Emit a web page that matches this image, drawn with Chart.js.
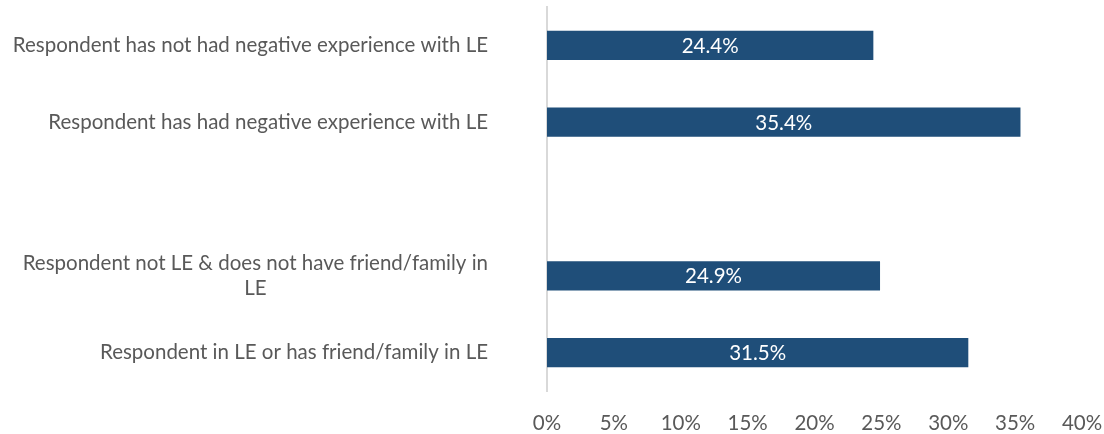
<!DOCTYPE html>
<html>
<head>
<meta charset="utf-8">
<script src="https://cdn.jsdelivr.net/npm/chart.js@4"></script>
<style>
  html, body { margin: 0; padding: 0; background: #fff; }
  #wrap { width: 1104px; height: 434px; }
</style>
</head>
<body>
<div id="wrap"><canvas id="c" width="1104" height="434"></canvas></div>
<script>
const categories = [
  ["Respondent has not had negative experience with LE"],
  ["Respondent has had negative experience with LE"],
  [""],
  ["Respondent not LE & does not have friend/family in", "LE"],
  ["Respondent in LE or has friend/family in LE"]
];
const shares = [24.4, 35.4, null, 24.9, 31.5];
const tickValues = [0, 5, 10, 15, 20, 25, 30, 35, 40];

const FONT = "Lato, 'Open Sans', sans-serif";
const FONT_SIZE = 20.5;
const TEXT = '#595959';
const BAR = '#1F4E79';
const LABEL_GAP = 59;

// Category labels: block right-aligned to the axis, lines centered within the block
const categoryLabels = {
  id: 'categoryLabels',
  afterDraw(chart) {
    const y = chart.scales.y;
    const ctx = chart.ctx;
    ctx.save();
    ctx.font = FONT_SIZE + 'px ' + FONT;
    ctx.fillStyle = TEXT;
    ctx.textBaseline = 'middle';
    ctx.textAlign = 'center';
    const lineH = 25;
    categories.forEach((lines, i) => {
      const widest = Math.max(...lines.map(l => ctx.measureText(l).width));
      const cx = y.right - LABEL_GAP - widest / 2;
      const cy = y.getPixelForTick(i);
      const top = cy - (lines.length - 1) * lineH / 2;
      lines.forEach((l, k) => ctx.fillText(l, cx, top + k * lineH));
    });
    ctx.restore();
  }
};

// Value labels inside each bar
const valueLabels = {
  id: 'valueLabels',
  afterDatasetsDraw(chart) {
    const ctx = chart.ctx;
    const meta = chart.getDatasetMeta(0);
    ctx.save();
    ctx.font = FONT_SIZE + 'px ' + FONT;
    ctx.fillStyle = '#ffffff';
    ctx.textAlign = 'center';
    ctx.textBaseline = 'middle';
    meta.data.forEach((bar, i) => {
      const v = shares[i];
      if (v === null) return;
      ctx.fillText(v.toFixed(1) + '%', (bar.x + bar.base) / 2, bar.y + 1);
    });
    ctx.restore();
  }
};

new Chart(document.getElementById('c'), {
  type: 'bar',
  data: {
    labels: categories.map(l => l.join(' ')),
    datasets: [{
      data: shares,
      backgroundColor: BAR,
      barPercentage: 0.38,
      categoryPercentage: 1
    }]
  },
  options: {
    indexAxis: 'y',
    responsive: false,
    animation: false,
    layout: { padding: { top: 7, right: 22, bottom: 0, left: 0 } },
    plugins: { legend: { display: false }, tooltip: { enabled: false } },
    scales: {
      x: {
        min: 0,
        max: 40,
        afterBuildTicks(scale) { scale.ticks = tickValues.map(v => ({ value: v })); },
        grid: { display: false, drawTicks: false },
        border: { display: false },
        ticks: {
          color: TEXT,
          font: { family: FONT, size: FONT_SIZE },
          padding: 20,
          maxRotation: 0,
          callback: v => v + '%'
        },
        afterFit(scale) {
          scale.height = 43;
          scale.paddingLeft = 0;
          scale.paddingRight = 0;
        }
      },
      y: {
        grid: { display: false, drawTicks: false },
        border: { display: true, color: '#d9d9d9', width: 2 },
        ticks: { display: false },
        afterFit(scale) { scale.width = 547; }
      }
    }
  },
  plugins: [categoryLabels, valueLabels]
});
</script>
</body>
</html>
